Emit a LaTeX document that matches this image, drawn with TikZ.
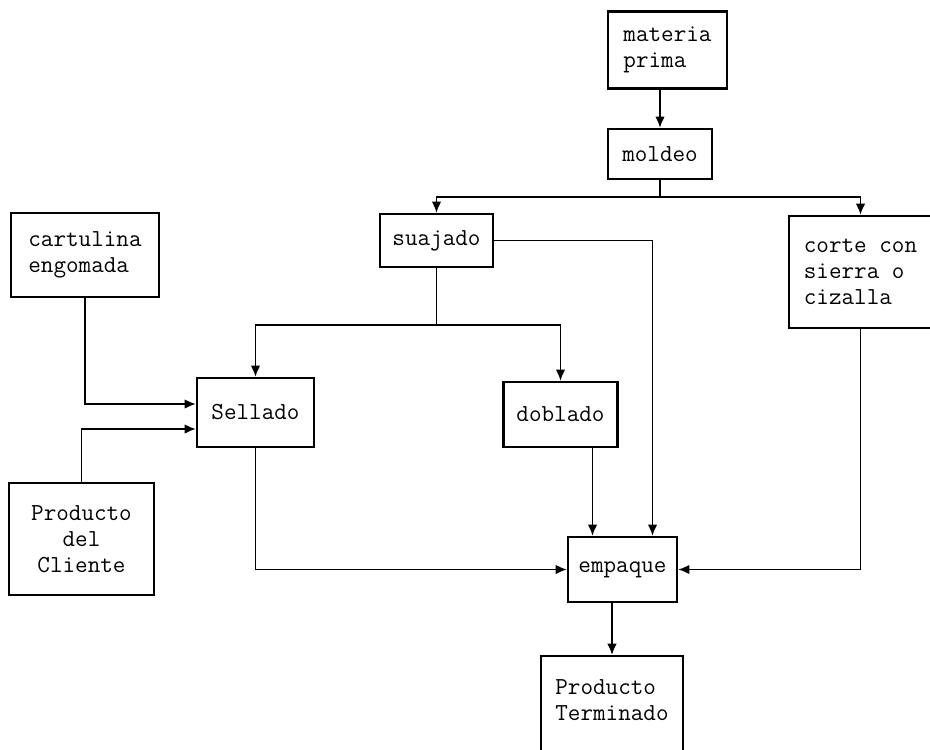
\documentclass[tikz,border=0pt]{standalone}
\usepackage{fontspec}
\usepackage{tikz}
\usetikzlibrary{arrows.meta, calc, positioning}
\tikzset{
  proc/.style={draw, line width=1.2pt, inner sep=0pt, align=left,
    font=\ttfamily\fontsize{13.9pt}{14.8pt}\selectfont},
  link/.style={line width=1.1pt},
  flow/.style={link, -{Latex[length=6.5pt, width=5.5pt]}},
}

\begin{document}
\begin{tikzpicture}[x=0.02cm, y=-0.02cm]
    \useasboundingbox (0,0) rectangle (930,750);

    % Draw Boxes
    \node[proc, minimum width=2.38cm, minimum height=1.54cm] (mat) at (667.5,50) {materia\\prima};
    \node[proc, minimum width=2.08cm, minimum height=1.0cm] (mol) at (660,154) {moldeo};
    \node[proc, minimum width=2.26cm, minimum height=1.06cm] (sua) at (436.5,240.5) {suajado};
    \node[proc, minimum width=2.96cm, minimum height=1.68cm] (car) at (85,255) {cartulina\\engomada};
    \node[proc, minimum width=2.86cm, minimum height=2.24cm] (cor) at (860.5,272) {corte con\\sierra o\\cizalla};
    \node[proc, minimum width=2.34cm, minimum height=1.38cm] (sel) at (255.5,412.5) {Sellado};
    \node[proc, minimum width=2.28cm, minimum height=1.3cm] (dob) at (560.5,414.5) {doblado};
    \node[proc, align=center, minimum width=2.9cm, minimum height=2.24cm] (cli) at (81.5,539) {Producto\\del\\Cliente};
    \node[proc, minimum width=2.18cm, minimum height=1.3cm] (emp) at (622.5,569.5) {empaque};
    \node[proc, anchor=north, minimum width=2.84cm, inner ysep=0.48cm, text depth=1.6cm] (ter) at (612,655) {Producto\\Terminado};

    % Branch Points
    \coordinate (sp1) at ($(mol.south)+(0,17)$);
    \coordinate (sp2) at ($(sua.south)+(0,57)$);
    \coordinate (empL) at ($(emp.north)+(-30,0)$);
    \coordinate (empR) at ($(emp.north)+(30,0)$);
    \coordinate (selA) at ($(sel.west)+(0,-8.5)$);
    \coordinate (selB) at ($(sel.west)+(0,16.5)$);

    % Draw Connectors
    \draw[flow] (mol.north |- mat.south) -- (mol.north);
    \draw[link] (mol.south) -- (sp1);
    \draw[flow] (sp1) -| (sua.north);
    \draw[flow] (sp1) -| (cor.north);
    \draw[flow] (sua.east) -| (empR);
    \draw[link] (sua.south) -- (sp2);
    \draw[flow] (sp2) -| (sel.north);
    \draw[flow] (sp2) -| (dob.north);
    \draw[flow] (car.south) |- (selA);
    \draw[flow] (cli.north) |- (selB);
    \draw[flow] (dob.south -| empL) -- (empL);
    \draw[flow] (sel.south) |- (emp.west);
    \draw[flow] (cor.south) |- (emp.east);
    \draw[flow] (ter.north |- emp.south) -- (ter.north);
\end{tikzpicture}
\end{document}
